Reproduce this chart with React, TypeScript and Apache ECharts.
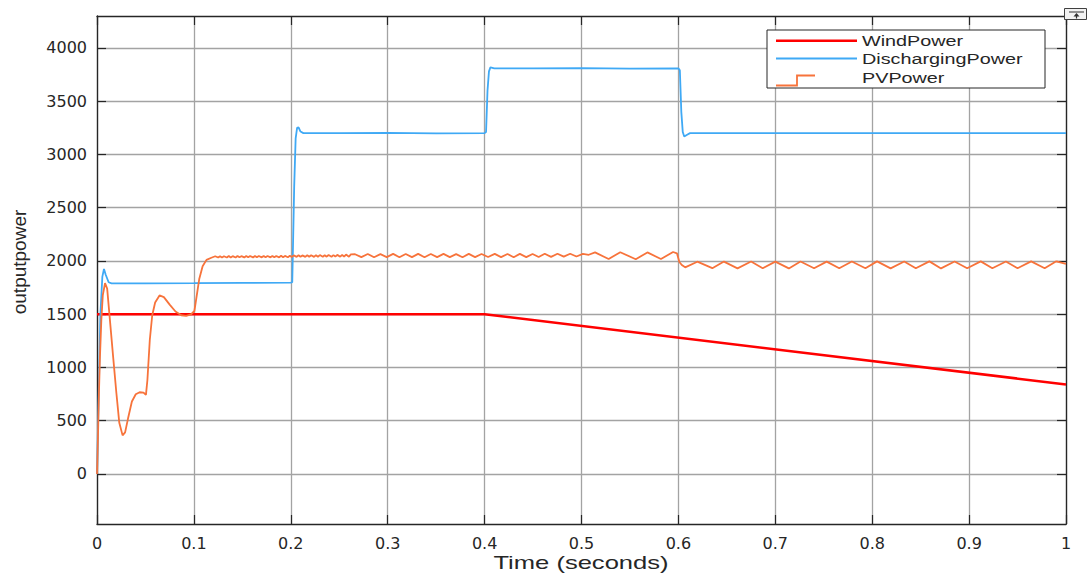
import React, { useEffect, useRef } from "react";
import * as echarts from "echarts";

// Simulation output, time in seconds, power in W
const windPower: [number, number][] = [
  [0, 1500],
  [0.4, 1500],
  [1, 840],
];

const dischargingPower: [number, number][] = [
  [0, 0], [0.0035, 1500], [0.0055, 1850], [0.0072, 1925], [0.009, 1870], [0.012, 1800], [0.015, 1790],
  [0.05, 1790], [0.1, 1791], [0.15, 1794], [0.2, 1796],
  [0.2015, 1800], [0.2035, 2700], [0.205, 3150], [0.2065, 3250], [0.208, 3255], [0.21, 3215], [0.213, 3200],
  [0.25, 3200], [0.3, 3202], [0.35, 3198], [0.4, 3200],
  [0.4015, 3210], [0.403, 3600], [0.4045, 3780], [0.406, 3818], [0.41, 3808],
  [0.45, 3808], [0.5, 3810], [0.55, 3806], [0.6, 3808],
  [0.6015, 3790], [0.603, 3400], [0.6045, 3210], [0.606, 3168], [0.609, 3185], [0.612, 3200],
  [0.7, 3200], [0.8, 3201], [0.9, 3200], [1, 3200],
];

const pvStartup: [number, number][] = [
  [0, 0], [0.001, 350], [0.002, 760], [0.003, 1090], [0.0045, 1450], [0.006, 1680], [0.0083, 1792],
  [0.0105, 1740], [0.013, 1480], [0.0168, 1085], [0.02, 760], [0.023, 480], [0.0264, 362], [0.029, 390],
  [0.032, 520], [0.036, 680], [0.04, 748], [0.044, 767], [0.048, 764], [0.0505, 742], [0.052, 880],
  [0.0545, 1260], [0.057, 1490], [0.06, 1610], [0.0645, 1676], [0.069, 1660], [0.075, 1590],
  [0.081, 1525], [0.087, 1490], [0.092, 1484], [0.097, 1498], [0.1005, 1530], [0.103, 1680],
  [0.1055, 1830], [0.109, 1950], [0.113, 2010], [0.118, 2030],
];

const pvRippleA: [number, number][] = [
  [0.122, 2044], [0.125, 2032], [0.127, 2045], [0.129, 2033], [0.131, 2044], [0.134, 2032], [0.136, 2046],
  [0.138, 2033], [0.14, 2045], [0.143, 2032], [0.145, 2046], [0.147, 2034], [0.149, 2045], [0.152, 2033],
  [0.154, 2046], [0.156, 2034], [0.158, 2046], [0.161, 2033], [0.163, 2047], [0.165, 2034], [0.167, 2046],
  [0.17, 2034], [0.172, 2047], [0.174, 2035], [0.176, 2046], [0.179, 2034], [0.181, 2047], [0.183, 2035],
  [0.185, 2047], [0.188, 2034], [0.19, 2048], [0.192, 2035], [0.194, 2047], [0.197, 2035], [0.199, 2048],
  [0.201, 2036], [0.203, 2052], [0.206, 2038], [0.208, 2053], [0.21, 2039], [0.212, 2052], [0.215, 2038],
  [0.217, 2054], [0.219, 2039], [0.221, 2053], [0.224, 2038], [0.226, 2054], [0.228, 2040], [0.23, 2055],
  [0.233, 2039], [0.235, 2054], [0.237, 2040], [0.239, 2056], [0.242, 2040], [0.244, 2055], [0.246, 2041],
  [0.248, 2057], [0.251, 2040], [0.253, 2058], [0.255, 2040], [0.257, 2060], [0.26, 2040], [0.262, 2062],
];

const pvRippleB: [number, number][] = [
  [0.2663, 2063], [0.2728, 2036], [0.2794, 2065], [0.2859, 2035], [0.2925, 2064], [0.299, 2036],
  [0.3056, 2066], [0.3121, 2035], [0.3186, 2065], [0.325, 2036], [0.3314, 2066], [0.338, 2035],
  [0.3445, 2065], [0.351, 2036], [0.3576, 2066], [0.3641, 2036], [0.3706, 2064], [0.3772, 2035],
  [0.3837, 2066], [0.3902, 2036], [0.3968, 2065], [0.4036, 2037], [0.4105, 2066], [0.417, 2036],
  [0.4236, 2065], [0.43, 2035], [0.4364, 2066], [0.443, 2036], [0.4495, 2065], [0.4558, 2037],
  [0.4621, 2067], [0.4686, 2038], [0.4752, 2068], [0.4817, 2040], [0.4883, 2068], [0.4948, 2042],
  [0.5014, 2066], [0.5075, 2058],
];

const pvRippleC: [number, number][] = [
  [0.514, 2080], [0.528, 2018], [0.54, 2082], [0.556, 2016], [0.568, 2080], [0.582, 2018],
  [0.5945, 2084], [0.5985, 2072], [0.601, 1990], [0.6035, 1962], [0.607, 1940],
];

const pvRippleD: [number, number][] = [
  [0.6195, 1993], [0.635, 1932], [0.647, 1994], [0.661, 1930], [0.675, 1995], [0.687, 1931],
  [0.7, 1994], [0.714, 1930], [0.726, 1995], [0.74, 1931], [0.753, 1994], [0.766, 1932],
  [0.779, 1995], [0.793, 1931], [0.805, 1996], [0.819, 1930], [0.833, 1995], [0.845, 1931],
  [0.859, 1996], [0.871, 1930], [0.885, 1995], [0.898, 1931], [0.912, 1996], [0.924, 1932],
  [0.938, 1995], [0.95, 1931], [0.964, 1996], [0.978, 1932], [0.99, 1997], [1, 1972],
];

const pvPower: [number, number][] = [
  ...pvStartup,
  ...pvRippleA,
  ...pvRippleB,
  ...pvRippleC,
  ...pvRippleD,
];

const yTickValues = [0, 500, 1000, 1500, 2000, 2500, 3000, 3500, 4000];
const seriesNames = ["WindPower", "DischargingPower", "PVPower"];
const seriesColors = ["#ff0000", "#3fa9f5", "#f7733b"];

const frameColor = "#262626";
const gridColor = "#a3a3a3";
const labelFont = "DejaVu Sans";
const titleFont = "Liberation Sans";

function App() {
  const ref = useRef<HTMLDivElement>(null);

  useEffect(() => {
    if (!ref.current) return;
    const chart = echarts.init(ref.current, null, { renderer: "svg" });

    const frameLine = { show: true, onZero: false, lineStyle: { color: frameColor, width: 1.3 } };
    const innerTick = { show: true, inside: true, length: 9, lineStyle: { color: frameColor, width: 1.2 } };

    const xBase = { type: "value" as const, min: 0, max: 1, interval: 0.1 };
    const yBase = { type: "value" as const, min: -470, max: 4300 };

    const legendX = 767;
    const legendY = 30;
    const rowY = [40.7, 58.5, 78];

    chart.setOption({
      animation: false,
      backgroundColor: "#ffffff",
      grid: { left: 97, right: 21, top: 16, bottom: 49, containLabel: false },
      xAxis: [
        {
          ...xBase,
          position: "bottom",
          axisLine: frameLine,
          axisTick: innerTick,
          axisLabel: {
            color: frameColor,
            fontFamily: labelFont,
            fontSize: 16,
            margin: 11,
            formatter: (v: number) => String(Math.round(v * 10) / 10),
          },
          splitLine: { show: true, lineStyle: { color: gridColor, width: 1.3 } },
        },
        {
          ...xBase,
          position: "top",
          axisLine: frameLine,
          axisTick: innerTick,
          axisLabel: { show: false },
          splitLine: { show: false },
        },
      ],
      yAxis: [
        {
          ...yBase,
          position: "left",
          axisLine: frameLine,
          axisTick: { ...innerTick, customValues: yTickValues },
          axisLabel: {
            customValues: yTickValues,
            color: frameColor,
            fontFamily: labelFont,
            fontSize: 16,
            margin: 10,
            formatter: (v: number) => String(v),
          },
          splitLine: { show: true, lineStyle: { color: gridColor, width: 1.3 } },
        },
        {
          ...yBase,
          position: "right",
          axisLine: frameLine,
          axisTick: { ...innerTick, customValues: yTickValues },
          axisLabel: { show: false },
          splitLine: { show: false },
        },
      ],
      series: [
        {
          name: seriesNames[0],
          type: "line",
          data: windPower,
          showSymbol: false,
          symbol: "none",
          lineStyle: { color: seriesColors[0], width: 2.6 },
          z: 3,
        },
        {
          name: seriesNames[1],
          type: "line",
          data: dischargingPower,
          showSymbol: false,
          symbol: "none",
          lineStyle: { color: seriesColors[1], width: 1.8 },
          z: 4,
        },
        {
          name: seriesNames[2],
          type: "line",
          data: pvPower,
          showSymbol: false,
          symbol: "none",
          lineStyle: { color: seriesColors[2], width: 1.8 },
          z: 5,
        },
      ],
      graphic: [
        // axis titles
        {
          type: "text",
          x: 581,
          y: 563,
          scaleX: 1.42,
          style: {
            text: "Time (seconds)",
            fill: frameColor,
            font: `18px "${titleFont}"`,
            align: "center",
            verticalAlign: "middle",
          },
        },
        {
          type: "text",
          x: 19,
          y: 262,
          rotation: Math.PI / 2,
          style: {
            text: "outputpower",
            fill: frameColor,
            font: `19px "${titleFont}"`,
            align: "center",
            verticalAlign: "middle",
          },
        },
        // legend box
        {
          type: "rect",
          shape: { x: legendX, y: legendY, width: 278, height: 58 },
          style: { fill: "#ffffff", stroke: frameColor, lineWidth: 1 },
          z: 20,
        },
        {
          type: "line",
          shape: { x1: 776, y1: rowY[0], x2: 857, y2: rowY[0] },
          style: { stroke: seriesColors[0], lineWidth: 2.6 },
          z: 21,
        },
        {
          type: "line",
          shape: { x1: 776, y1: rowY[1], x2: 857, y2: rowY[1] },
          style: { stroke: seriesColors[1], lineWidth: 1.8 },
          z: 21,
        },
        {
          type: "polyline",
          shape: { points: [[776, 85.5], [797, 85.5], [797, 75.5], [815, 75.5]] },
          style: { stroke: seriesColors[2], lineWidth: 1.8, fill: "none" },
          z: 21,
        },
        ...seriesNames.map((name, i) => ({
          type: "text",
          x: 862,
          y: rowY[i],
          scaleX: 1.32,
          z: 21,
          style: {
            text: name,
            fill: frameColor,
            font: `15px "${titleFont}"`,
            align: "left",
            verticalAlign: "middle",
          },
        })),
        // toolbar icon in the corner
        {
          type: "rect",
          shape: { x: 1064.5, y: 8.5, width: 22, height: 11 },
          style: { fill: "#f2f2f2", stroke: "#404040", lineWidth: 1 },
          z: 20,
        },
        {
          type: "line",
          shape: { x1: 1069, y1: 12, x2: 1084, y2: 12 },
          style: { stroke: "#303030", lineWidth: 1 },
          z: 21,
        },
        {
          type: "polygon",
          shape: { points: [[1073.5, 16.5], [1076.5, 13], [1079.5, 16.5]] },
          style: { fill: "#303030" },
          z: 21,
        },
        {
          type: "line",
          shape: { x1: 1076.5, y1: 15, x2: 1076.5, y2: 18.5 },
          style: { stroke: "#303030", lineWidth: 1.2 },
          z: 21,
        },
      ],
    });

    return () => chart.dispose();
  }, []);

  return (
    <div
      ref={ref}
      style={{ position: "fixed", left: 0, top: 0, width: 1087, height: 573 }}
    />
  );
}

export default App;
